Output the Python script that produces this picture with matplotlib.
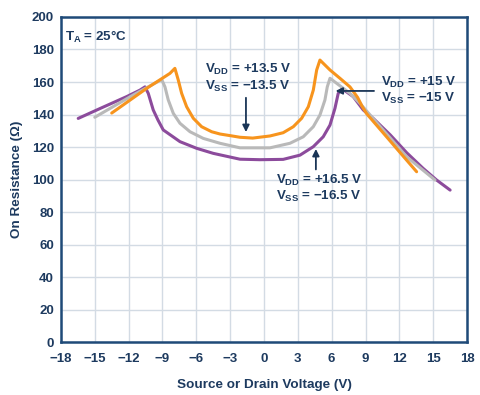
import matplotlib
matplotlib.use("Agg")
import matplotlib.pyplot as plt

plt.rcParams['font.family'] = ['Liberation Sans', 'DejaVu Sans']
plt.rcParams['font.weight'] = 'bold'
plt.rcParams['mathtext.fontset'] = 'custom'
plt.rcParams['mathtext.rm'] = 'Liberation Sans:bold'
plt.rcParams['mathtext.it'] = 'Liberation Sans:bold'
plt.rcParams['mathtext.bf'] = 'Liberation Sans:bold'

# ---- data ----
x_13p5 = [-13.5, -10.4, -8.34, -7.9, -7.6, -7.3, -6.86, -6.27, -5.53, -4.64, -3.9, -3.0, -2.13, -1.0,
          0.53, 1.7, 2.6, 3.34, 3.93, 4.37, 4.67, 4.96, 5.85, 6.73, 7.62, 8.3, 8.7, 9.1, 11.0, 12.0, 13.53]
y_13p5 = [140.9, 156.1, 165.3, 168.4, 161.2, 153, 144.8, 137.7, 132.5, 129.4, 128, 127, 126, 125.5,
          126.8, 128.8, 132.5, 137.7, 144.8, 155, 167.4, 173.5, 167.4, 162.3, 157, 150.5, 145, 140.5, 125.2, 117.1, 104.8]

x_15 = [-15, -11.6, -9.07, -8.78, -8.49, -8.04, -7.45, -6.56, -5.38, -3.9, -2.13, -0.36, 0.53, 2.3,
        3.48, 4.37, 4.96, 5.4, 5.61, 5.85, 6.44, 7.62, 8.5, 10.5, 12.65, 15.16]
y_15 = [138.3, 152, 161.5, 157, 149, 140.7, 134.6, 129.4, 125.3, 122.3, 119.5, 119.5, 119.5, 122.3,
        126.3, 132.5, 139.7, 148.9, 157, 162.3, 159.2, 153, 146.9, 131, 114, 99.7]

x_16p5 = [-16.47, -14.5, -12.18, -11.0, -10.55, -10.26, -9.82, -9.4, -8.93, -7.45, -5.97, -4.5, -2.13,
          -0.36, 1.7, 3.19, 4.37, 5.25, 5.85, 6.29, 6.58, 6.9, 7.2, 7.91, 8.8, 9.7, 11.2, 12.65, 14.1, 15.3, 16.5]
y_16p5 = [137.6, 143.8, 151, 155, 157, 153, 142.8, 136.6, 130.5, 123.3, 119.2, 116.1, 112.5,
          112.2, 112.4, 115, 120.2, 126.3, 133.5, 143.8, 153, 155.5, 154.5, 151, 142.8, 137.5, 127.4, 116.5, 106.9, 99.7, 93.5]

x_ticks = [-18, -15, -12, -9, -6, -3, 0, 3, 6, 9, 12, 15, 18]
y_ticks = [0, 20, 40, 60, 80, 100, 120, 140, 160, 180, 200]

text_color = '#1d3a5f'
frame_color = '#1f4a78'
grid_color = '#d3dbe4'

fig = plt.figure(figsize=(4.8, 3.95), dpi=100)
ax = fig.add_axes([0.127, 0.134, 0.846, 0.823])

line_kw = dict(lw=2.2, solid_joinstyle='round', solid_capstyle='round')
ax.plot(x_16p5, y_16p5, color='#8c4b9c', zorder=3, **line_kw)
ax.plot(x_15, y_15, color='#b9b9b9', zorder=4, **line_kw)
ax.plot(x_13p5, y_13p5, color='#f7941d', zorder=5, **line_kw)

ax.set_xlim(-18, 18)
ax.set_ylim(0, 200)
ax.set_xticks(x_ticks)
ax.set_yticks(y_ticks)
ax.set_xticklabels([str(v).replace('-', '\u2212') for v in x_ticks])
ax.grid(True, color=grid_color, lw=1.0, zorder=0)
ax.tick_params(length=0, labelsize=9.5, colors=text_color)
ax.tick_params(axis='x', pad=8)
ax.tick_params(axis='y', pad=5)
for lbl in ax.get_xticklabels() + ax.get_yticklabels():
    lbl.set_fontweight('bold')
for s in ax.spines.values():
    s.set_color(frame_color)
    s.set_linewidth(1.8)

ax.set_xlabel('Source or Drain Voltage (V)', fontsize=9.7, color=text_color, fontweight='bold', labelpad=10)
ax.set_ylabel('On Resistance (\u03a9)', fontsize=9.7, color=text_color, fontweight='bold', labelpad=6)

fs = 9.6
ax.text(-17.6, 188, r'$T_A$ = 25°C', fontsize=fs, color=text_color, fontweight='bold', va='center')
ax.text(-5.2, 167.5, r'$V_{DD}$ = +13.5 V', fontsize=fs, color=text_color, fontweight='bold', va='center')
ax.text(-5.2, 157.3, r'$V_{SS}$ = −13.5 V', fontsize=fs, color=text_color, fontweight='bold', va='center')
ax.text(10.4, 159.5, r'$V_{DD}$ = +15 V', fontsize=fs, color=text_color, fontweight='bold', va='center')
ax.text(10.4, 149.8, r'$V_{SS}$ = −15 V', fontsize=fs, color=text_color, fontweight='bold', va='center')
ax.text(1.05, 99.5, r'$V_{DD}$ = +16.5 V', fontsize=fs, color=text_color, fontweight='bold', va='center')
ax.text(1.05, 89.5, r'$V_{SS}$ = −16.5 V', fontsize=fs, color=text_color, fontweight='bold', va='center')

arrow_kw = dict(arrowstyle='-|>', color='#1a3556', lw=1.3, mutation_scale=10)
ax.annotate('', xy=(-1.6, 127.5), xytext=(-1.6, 152), arrowprops=arrow_kw, zorder=6)
ax.annotate('', xy=(6.1, 154.5), xytext=(10.0, 154.5), arrowprops=arrow_kw, zorder=6)
ax.annotate('', xy=(4.6, 120.5), xytext=(4.6, 104.5), arrowprops=arrow_kw, zorder=6)

fig.savefig('out.png', dpi=100)
